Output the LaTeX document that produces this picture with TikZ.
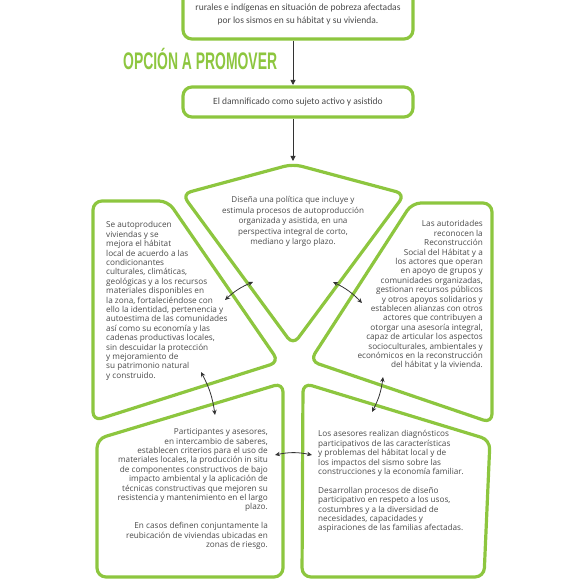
\documentclass[tikz,border=0pt]{standalone}
\usepackage{fontspec}
\usepackage{graphicx}
\setmainfont{Open Sans}
\newfontfamily\topfont{Carlito}
\newfontfamily\titlefont{Liberation Sans}
\usetikzlibrary{arrows.meta}
\definecolor{lime}{HTML}{8DC63F}
\definecolor{ink}{HTML}{4A4A4A}
\definecolor{arr}{HTML}{333333}
\begin{document}
\begin{tikzpicture}[x=1pt,y=-1pt,
  panel/.style={draw=lime, line width=3.2pt, rounded corners=9pt, line join=round},
  body/.style={inner sep=0pt, text=ink, font=\fontsize{8.2}{9.4}\selectfont},
  toptext/.style={inner sep=0pt, text=ink, align=center, font=\topfont\fontsize{9.5}{13}\selectfont},
  twoway/.style={draw=arr, line width=0.8pt, {Stealth[length=5pt,width=4.5pt]}-{Stealth[length=5pt,width=4.5pt]}},
  down/.style={draw=arr, line width=0.9pt, -{Triangle[length=5pt,width=5pt]}}]
\useasboundingbox (0,0) rectangle (580,580);
\clip (0,0) rectangle (580,580);

% top boxes
\draw[panel] (183,-30) rectangle (413,39);
\node[toptext] (goal) at (298,8) {El gobierno se propone atender a comunidades\\rurales e indígenas en situación de pobreza afectadas\\por los sismos en su hábitat y su vivienda.};
\draw[panel] (183,87) rectangle (413,117);
\node[toptext] (subject) at (298,102) {El damnificado como sujeto activo y asistido};

\node[anchor=base west, inner sep=0pt, text=lime] (title) at (123,70)
  {\scalebox{0.58}[1]{\titlefont\bfseries\fontsize{24}{24}\selectfont OPCIÓN A PROMOVER}};

\coordinate (d1s) at (293,40.6);
\coordinate (d1e) at (293,85);
\coordinate (d2s) at (293,118.6);
\coordinate (d2e) at (293,161);
\draw[down] (d1s) -- (d1e);
\draw[down] (d2s) -- (d2e);

% panels
\draw[panel] (182,194) -- (293,164) -- (405,194) -- (293,345) -- cycle;
\draw[panel] (93,201) -- (168,201) -- (279,362) -- (93,421) -- cycle;
\draw[panel] (412,203) -- (492,203) -- (492,423) -- (310,361) -- cycle;
\draw[panel] (97,439) -- (283,383) -- (283,577) -- (97,577) -- cycle;
\draw[panel] (303,383) -- (490,440) -- (484,577) -- (302,577) -- cycle;

% texts
\node[body, anchor=north, align=center, font=\fontsize{8.1}{10.5}\selectfont] (policy) at (293,196.5)
 {Diseña una política que incluye y\\estimula procesos de autoproducción\\organizada y asistida, en una\\perspectiva integral de corto,\\mediano y largo plazo.};

\node[body, anchor=north west, align=left] (selfprod) at (106,221.5)
 {Se autoproducen\\viviendas y se\\mejora el hábitat\\local de acuerdo a las\\condicionantes\\culturales, climáticas,\\geológicas y a los recursos\\materiales disponibles en\\la zona, fortaleciéndose con\\ello la identidad, pertenencia y\\autoestima de las comunidades\\así como su economía y las\\cadenas productivas locales,\\sin descuidar la protección\\y mejoramiento de\\su patrimonio natural\\y construido.};

\node[body, anchor=north east, align=right] (authorities) at (483,220.5)
 {Las autoridades\\reconocen la\\Reconstrucción\\Social del Hábitat y a\\los actores que operan\\en apoyo de grupos y\\comunidades organizadas,\\gestionan recursos públicos\\y otros apoyos solidarios y\\establecen alianzas con otros\\actores que contribuyen a\\otorgar una asesoría integral,\\capaz de articular los aspectos\\socioculturales, ambientales y\\económicos en la reconstrucción\\del hábitat y la vivienda.};

\node[body, anchor=north east, align=right] (participants) at (268,428.5)
 {Participantes y asesores,\\en intercambio de saberes,\\establecen criterios para el uso de\\materiales locales, la producción in situ\\de componentes constructivos de bajo\\impacto ambiental y la aplicación de\\técnicas constructivas que mejoren su\\resistencia y mantenimiento en el largo\\plazo.\\[9.4pt]En casos definen conjuntamente la\\reubicación de viviendas ubicadas en\\zonas de riesgo.};

\node[body, anchor=north west, align=left] (advisors) at (318,430.5)
 {Los asesores realizan diagnósticos\\participativos de las características\\y problemas del hábitat local y de\\los impactos del sismo sobre las\\construcciones y la economía familiar.\\[9.4pt]Desarrollan procesos de diseño\\participativo en respeto a los usos,\\costumbres y a la diversidad de\\necesidades, capacidades y\\aspiraciones de las familias afectadas.};

% two-way arrows
\coordinate (a1s) at (225,300); \coordinate (a1e) at (253,282);
\coordinate (a2s) at (333,282); \coordinate (a2e) at (362,303);
\coordinate (a3s) at (201,372); \coordinate (a3e) at (215,415);
\coordinate (a4s) at (383,377); \coordinate (a4e) at (372,412);
\coordinate (a5s) at (275,455); \coordinate (a5e) at (312,455);
\draw[twoway] (a1s) to[bend left=10] (a1e);
\draw[twoway] (a2s) to[bend left=10] (a2e);
\draw[twoway] (a3s) to[bend left=10] (a3e);
\draw[twoway] (a4s) to[bend left=10] (a4e);
\draw[twoway] (a5s) to[bend left=12] (a5e);
\end{tikzpicture}
\end{document}
